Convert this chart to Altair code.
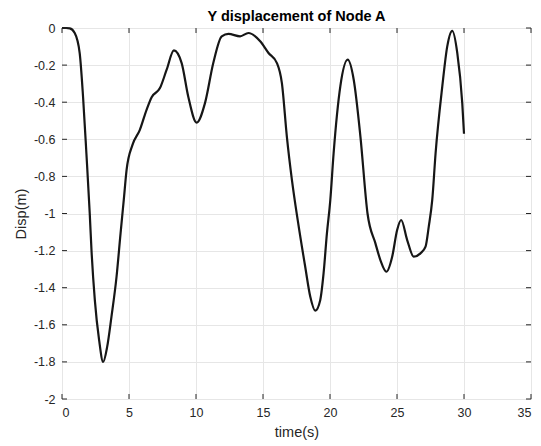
import altair as alt
import pandas as pd

time_s = [0, 0.3, 0.58, 0.95, 1.32, 1.57, 1.82, 2.07, 2.2, 2.45, 2.77, 3.07, 3.37, 3.69,
          4.07, 4.37, 4.61, 4.82, 5.26, 5.81, 6.31, 6.69, 7.31, 7.81, 8.35, 8.93, 9.42,
          10.05, 10.67, 11.29, 11.92, 12.42, 13.29, 13.91, 14.79, 15.41, 16.04, 16.41,
          16.78, 17.16, 17.6, 18.15, 18.53, 18.9, 19.27, 19.52, 19.77, 20.02, 20.27,
          20.77, 21.32, 21.77, 22.27, 22.8, 23.39, 23.76, 24.21, 24.64, 25.01, 25.31,
          25.76, 26.25, 26.75, 27.13, 27.37, 27.63, 27.88, 28.38, 28.75, 29.12, 29.5,
          29.87, 30.0]
disp_m = [0, 0, -0.002, -0.027, -0.135, -0.369, -0.675, -1.0, -1.197, -1.467, -1.683,
          -1.8, -1.719, -1.557, -1.341, -1.107, -0.927, -0.765, -0.63, -0.549, -0.441,
          -0.373, -0.324, -0.225, -0.121, -0.189, -0.369, -0.51, -0.405, -0.189, -0.045,
          -0.032, -0.045, -0.027, -0.072, -0.135, -0.189, -0.297, -0.585, -0.82, -1.04,
          -1.287, -1.449, -1.524, -1.467, -1.323, -1.107, -0.93, -0.675, -0.315, -0.171,
          -0.279, -0.585, -1.0, -1.161, -1.251, -1.314, -1.233, -1.089, -1.035, -1.143,
          -1.233, -1.215, -1.179, -1.071, -0.927, -0.675, -0.315, -0.099, -0.015, -0.135,
          -0.405, -0.57]

x_ticks = [0, 5, 10, 15, 20, 25, 30, 35]
y_ticks = [-2, -1.8, -1.6, -1.4, -1.2, -1, -0.8, -0.6, -0.4, -0.2, 0]

W, H = 469, 371
FONT = "Liberation Sans"
AX = "#262626"

df = pd.DataFrame({"t": time_s, "d": disp_m})
xt = pd.DataFrame({"t": x_ticks})
yt = pd.DataFrame({"d": y_ticks})

xscale = alt.Scale(domain=[0, 35], nice=False, zero=False)
yscale = alt.Scale(domain=[-2, 0], nice=False, zero=False)

xaxis = alt.Axis(values=x_ticks, title="time(s)", labelExpr="'' + datum.value",
                 grid=True, gridColor="#e6e6e6", ticks=False, domain=False,
                 labelPadding=7, titlePadding=7, labelFontSize=12.5,
                 titleFontSize=14.5, labelColor=AX, titleColor=AX,
                 labelFont=FONT, titleFont=FONT, titleFontWeight="normal")
yaxis = alt.Axis(values=y_ticks, title="Disp(m)", labelExpr="'' + datum.value",
                 grid=True, gridColor="#e6e6e6", ticks=False, domain=False,
                 labelPadding=7, titlePadding=5, labelFontSize=12.5,
                 titleFontSize=14.5, labelColor=AX, titleColor=AX,
                 labelFont=FONT, titleFont=FONT, titleFontWeight="normal")

line = alt.Chart(df).mark_line(color="#161616", strokeWidth=2.2, interpolate="monotone").encode(
    x=alt.X("t:Q", scale=xscale, axis=xaxis),
    y=alt.Y("d:Q", scale=yscale, axis=yaxis),
)

xt_bot = alt.Chart(xt).mark_rule(color=AX, strokeWidth=1).encode(
    x=alt.X("t:Q", scale=xscale, axis=xaxis), y=alt.value(H), y2=alt.value(H - 5))
xt_top = alt.Chart(xt).mark_rule(color=AX, strokeWidth=1).encode(
    x=alt.X("t:Q", scale=xscale, axis=xaxis), y=alt.value(0), y2=alt.value(5))
yt_left = alt.Chart(yt).mark_rule(color=AX, strokeWidth=1).encode(
    y=alt.Y("d:Q", scale=yscale, axis=yaxis), x=alt.value(0), x2=alt.value(5))
yt_right = alt.Chart(yt).mark_rule(color=AX, strokeWidth=1).encode(
    y=alt.Y("d:Q", scale=yscale, axis=yaxis), x=alt.value(W), x2=alt.value(W - 5))

chart = alt.layer(line, xt_bot, xt_top, yt_left, yt_right).properties(
    width=W, height=H,
    title=alt.TitleParams("Y displacement of Node A", fontSize=14.5, font=FONT,
                          fontWeight="bold", color="#000000", offset=4, anchor="middle",
                          frame="group", dy=6),
    autosize=alt.AutoSizeParams(type="none"),
    padding={"left": 62, "top": 28, "right": 10, "bottom": 47},
).configure_view(stroke=AX, strokeWidth=1).configure(background="white")

chart.save("out.html", embed_options={"renderer": "svg", "actions": False})
